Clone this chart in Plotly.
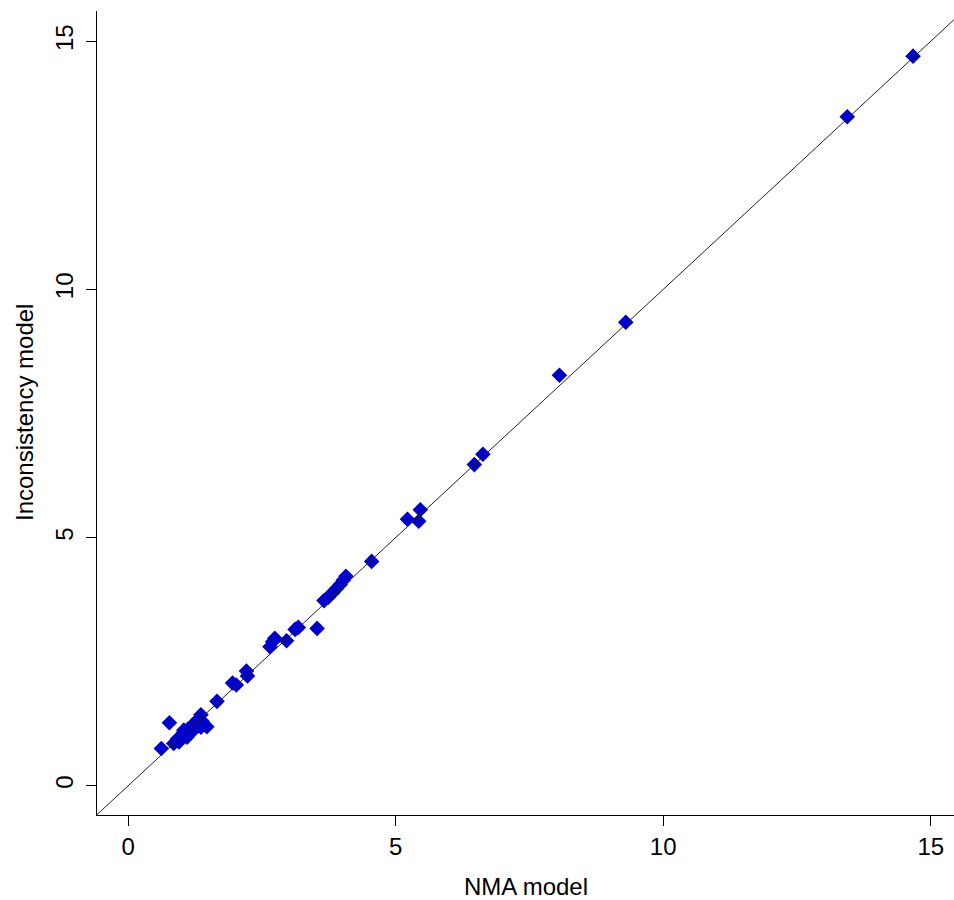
import plotly.graph_objects as go

# Values
nma_model = [14.67, 13.44, 9.30, 8.06, 6.63, 6.47,
             5.46, 5.43, 5.22, 4.55,
             3.66, 3.74, 3.82, 3.89, 3.96, 4.02, 4.07,
             3.53, 3.12, 3.18, 2.96, 2.74, 2.70, 2.65,
             2.21, 2.23, 1.95, 2.02, 1.66,
             0.77, 0.62, 1.47, 1.36, 0.85, 0.92, 0.98, 1.03, 1.08, 1.12,
             1.16, 1.20, 1.25, 1.30, 1.36, 1.38, 1.10, 1.22, 1.04, 0.95]
inconsistency_model = [14.70, 13.48, 9.34, 8.27, 6.68, 6.47,
                       5.56, 5.33, 5.37, 4.52,
                       3.73, 3.80, 3.89, 3.97, 4.05, 4.14, 4.22,
                       3.17, 3.15, 3.19, 2.92, 2.97, 2.90, 2.80,
                       2.31, 2.21, 2.07, 2.03, 1.70,
                       1.27, 0.75, 1.19, 1.18, 0.85, 0.94, 0.98, 1.06, 1.04, 1.14,
                       1.10, 1.22, 1.26, 1.33, 1.43, 1.30, 0.98, 1.12, 1.12, 0.88]
tick_vals = [0, 5, 10, 15]
tick_text = ["0", "5", "10", "15"]
x_title = "NMA model"
y_title = "Inconsistency model"

x_range = [-0.583, 15.435]
y_range = [-0.59, 15.61]

FONT = "Liberation Sans, Arial, sans-serif"

fig = go.Figure()
fig.add_trace(go.Scatter(
    x=nma_model, y=inconsistency_model, mode="markers",
    marker=dict(symbol="diamond", size=12, color="#0000CD",
                line=dict(width=0)),
    showlegend=False, hoverinfo="x+y"))

# identity reference line (abline 0,1) spanning the axis range
lo = min(x_range[0], y_range[0])
hi = max(x_range[1], y_range[1]) + 1
fig.add_trace(go.Scatter(
    x=[lo, hi], y=[lo, hi], mode="lines",
    line=dict(color="#222222", width=1),
    showlegend=False, hoverinfo="skip"))

axis_common = dict(
    showgrid=False, zeroline=False, showline=True, linecolor="black",
    linewidth=1, ticks="outside", ticklen=10, tickwidth=1, tickcolor="black",
    tickvals=tick_vals, ticktext=tick_text,
    tickfont=dict(family=FONT, size=24, color="black"),
    mirror=False, automargin=False,
)

fig.update_layout(
    width=954, height=900,
    margin=dict(l=97, r=0, t=11, b=85),
    plot_bgcolor="white", paper_bgcolor="white",
    xaxis=dict(range=x_range, **axis_common),
    yaxis=dict(range=y_range, tickangle=-90, ticklabelstandoff=3,
               **axis_common),
    annotations=[
        dict(text=x_title, xref="paper", yref="paper", x=0.5, y=0,
             xanchor="center", yanchor="top", yshift=-56, showarrow=False,
             font=dict(family=FONT, size=24, color="black")),
        dict(text=y_title, xref="paper", yref="paper", x=0, y=0.5,
             xanchor="center", yanchor="middle", xshift=-73, textangle=-90,
             showarrow=False,
             font=dict(family=FONT, size=24, color="black")),
    ],
)

fig.write_html(
    "out.html",
    config={"displayModeBar": False},
    post_script="document.body.style.margin='0';document.body.style.overflow='hidden';",
)
